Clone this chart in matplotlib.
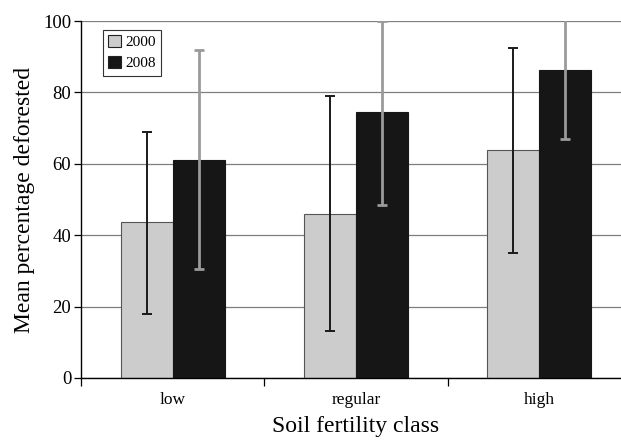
import numpy as np
import matplotlib.pyplot as plt

categories = ["low", "regular", "high"]
years = ["2000", "2008"]
mean_2000 = [43.8, 46.0, 63.9]
low_2000 = [17.9, 13.1, 35.0]
high_2000 = [69.0, 79.1, 92.5]
mean_2008 = [61.2, 74.4, 86.2]
low_2008 = [30.6, 48.5, 66.9]
high_2008 = [91.9, 100.0, 105.5]

plt.rcParams['font.family'] = ['Liberation Serif', 'DejaVu Serif']

fig = plt.figure(figsize=(6.21, 4.42), dpi=100)
ax = fig.add_axes([81 / 621, 1 - 378 / 442, 550 / 621, 357 / 442])

x = np.arange(len(categories))
w = 0.283
m0 = np.array(mean_2000)
m8 = np.array(mean_2008)
err0 = [m0 - np.array(low_2000), np.array(high_2000) - m0]
err8 = [m8 - np.array(low_2008), np.array(high_2008) - m8]

ax.set_axisbelow(True)
ax.yaxis.grid(True, color='#7f7f7f', linewidth=0.9)
ax.bar(x - w / 2, m0, w, color='#cccccc', edgecolor='#555555', linewidth=0.8,
       label=years[0], zorder=2)
ax.bar(x + w / 2, m8, w, color='#161616', edgecolor='#161616', linewidth=0.8,
       label=years[1], zorder=2)
ax.errorbar(x - w / 2, m0, yerr=err0, fmt='none', ecolor='#1a1a1a',
            elinewidth=1.4, capsize=3.5, capthick=1.4, zorder=3)
ax.errorbar(x + w / 2, m8, yerr=err8, fmt='none', ecolor='#9a9a9a',
            elinewidth=2.0, capsize=3.5, capthick=2.0, zorder=3)

ax.set_ylim(0, 100)
ax.set_xlim(-0.5, len(categories) - 0.5)
ax.set_yticks([0, 20, 40, 60, 80, 100])
ax.set_xticks(np.arange(len(categories) + 1) - 0.5)
ax.set_xticklabels([])
ax.set_xticks(x, minor=True)
ax.set_xticklabels(categories, minor=True)
ax.tick_params(axis='x', which='minor', length=0, pad=10, labelsize=12.5)
ax.tick_params(axis='x', which='major', length=6, width=0.9, direction='out')
ax.tick_params(axis='y', length=5, width=0.9, direction='out', labelsize=13.5,
               pad=2)

for s in ['top', 'right']:
    ax.spines[s].set_visible(False)
for s in ['left', 'bottom']:
    ax.spines[s].set_linewidth(1.0)

ax.set_xlabel("Soil fertility class", fontsize=17, labelpad=6)
ax.set_ylabel("Mean percentage deforested", fontsize=17, labelpad=6)

leg = ax.legend(loc='upper left', bbox_to_anchor=(0.04, 0.975), fontsize=11,
                fancybox=False, edgecolor='#333333', framealpha=1,
                handlelength=0.8, handleheight=0.8, handletextpad=0.3,
                borderpad=0.35, labelspacing=0.45, borderaxespad=0)
leg.get_frame().set_linewidth(0.8)
for h in leg.legend_handles:
    h.set_edgecolor('#222222')

fig.savefig("out.png", dpi=100)
